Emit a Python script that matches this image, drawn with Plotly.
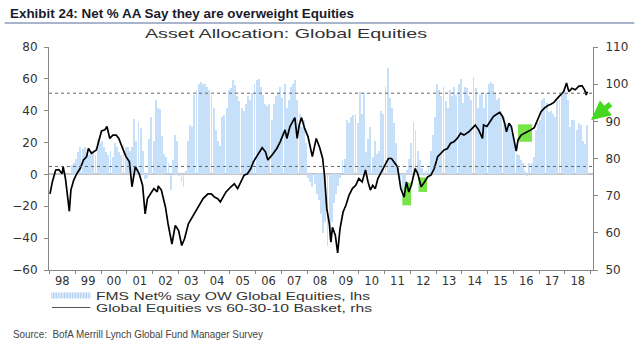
import json
import pandas as pd
import plotly.graph_objects as go

# ---------------- data ----------------
BAR_START = "1998-11-01"   # first monthly FMS observation
FMS_1998 = [6, 7]
FMS_1999 = [10, 14, 17, 16, 17, 13, 12, 15, 14, 12, 22, 20]
FMS_2000 = [21, 17, 14, 12, 15, 11, 20, 17, 14, 12, 19, 17]
FMS_2001 = [17, 15, 17, 35, 21, 33, 29, 15, -3, -2, 22, 36]
FMS_2002 = [21, 47, 42, 41, 24, 13, 11, 7, -10, 9, 25, 21]
FMS_2003 = [-1, -5, -8, 2, 21, 31, 30, 50, 53, 57, 58, 57]
FMS_2004 = [57, 55, 53, 50, 42, 28, 21, 18, 36, 37, 42, 53]
FMS_2005 = [54, 59, 56, 49, 46, 42, 40, 44, 49, 47, 51, 57]
FMS_2006 = [59, 60, 55, 50, 44, 43, 44, 34, 44, 49, 51, 55]
FMS_2007 = [48, 57, 42, 47, 55, 57, 59, 47, 38, 30, 34, 20]
FMS_2008 = [-2, -5, -8, -6, -12, -16, -25, -37, -30, -45, -41, -30]
FMS_2009 = [-18, -12, -7, -2, 9, 10, 34, 32, 36, 37, 38, 32]
FMS_2010 = [52, 38, 51, 14, 22, 30, 11, 21, 13, 15, 40, 38]
FMS_2011 = [55, 67, 48, 42, 32, 20, 4, -8, -14, -8, 3, 10]
FMS_2012 = [20, 33, 28, 15, 9, 4, -1, 2, 5, 15, 25, 36]
FMS_2013 = [57, 53, 49, 55, 46, 42, 53, 49, 55, 50, 57, 60]
FMS_2014 = [45, 55, 54, 49, 47, 61, 54, 42, 50, 51, 42, 51]
FMS_2015 = [57, 58, 57, 51, 47, 48, 40, 36, 32, 30, 31, 26]
FMS_2016 = [21, 13, 12, 9, 7, 2, -1, 7, 7, 11, 28, 32]
FMS_2017 = [34, 47, 48, 45, 39, 40, 38, 36, 48, 47, 51, 53]
FMS_2018 = [51, 47, 30, 34, 34, 28, 32, 31, 21, 19, 31]

LINE_YEARS = [
    1998.02, 1998.11, 1998.24, 1998.36, 1998.49, 1998.53, 1998.62, 1998.71, 1998.77, 1998.83, 1998.94,
    1999.06, 1999.19, 1999.32, 1999.44, 1999.51, 1999.63, 1999.82, 1999.93,
    2000.02, 2000.15, 2000.23, 2000.34, 2000.46, 2000.59, 2000.69, 2000.84, 2000.97,
    2001.10, 2001.20, 2001.33, 2001.48, 2001.61, 2001.71, 2001.80, 2001.92,
    2002.05, 2002.18, 2002.22, 2002.34, 2002.50, 2002.60, 2002.75, 2002.88,
    2003.01, 2003.13, 2003.24, 2003.39, 2003.58, 2003.71, 2003.83, 2003.96,
    2004.15, 2004.28, 2004.40, 2004.53, 2004.63, 2004.73, 2004.85,
    2005.04, 2005.17, 2005.30, 2005.42, 2005.55, 2005.68, 2005.81, 2005.91,
    2006.06, 2006.25, 2006.38, 2006.47, 2006.63, 2006.82, 2006.95,
    2007.14, 2007.21, 2007.33, 2007.52, 2007.61, 2007.69, 2007.78, 2007.90,
    2008.03, 2008.20, 2008.35, 2008.48, 2008.60, 2008.67, 2008.76, 2008.86, 2008.92, 2008.98,
    2009.09, 2009.18, 2009.27, 2009.39, 2009.50, 2009.62, 2009.75, 2009.88,
    2010.00, 2010.13, 2010.26, 2010.36, 2010.45, 2010.54, 2010.64, 2010.74, 2010.87,
    2011.02, 2011.15, 2011.27, 2011.40, 2011.50, 2011.63, 2011.76, 2011.85, 2011.94,
    2012.04, 2012.19, 2012.29, 2012.42, 2012.55, 2012.68, 2012.80, 2012.93,
    2013.06, 2013.18, 2013.31, 2013.44, 2013.56, 2013.69, 2013.82, 2013.95,
    2014.08, 2014.27, 2014.52, 2014.65, 2014.80, 2014.84, 2014.97,
    2015.09, 2015.22, 2015.35, 2015.47, 2015.58, 2015.66, 2015.73, 2015.83, 2015.92,
    2016.01, 2016.11, 2016.18, 2016.30, 2016.43, 2016.56, 2016.68, 2016.81, 2016.94,
    2017.07, 2017.19, 2017.32, 2017.45, 2017.57, 2017.70, 2017.83, 2017.95,
    2018.06, 2018.15, 2018.27, 2018.40, 2018.53, 2018.66, 2018.76, 2018.82, 2018.87,
]
LINE_VALUES = [
    70.5, 73.7, 76.9, 77.0, 75.9, 77.8, 74.6, 68.3, 65.8, 71.5, 74.2,
    75.9, 77.3, 79.6, 80.5, 82.7, 81.4, 82.3, 85.4,
    87.4, 87.7, 88.6, 85.4, 86.3, 86.3, 85.4, 82.7, 80.5,
    79.1, 72.4, 77.8, 75.9, 72.8, 65.1, 69.2, 70.5,
    71.9, 71.0, 72.6, 71.5, 66.9, 62.4, 57.0, 62.0,
    60.6, 56.6, 58.4, 62.4, 64.7, 66.5, 67.8, 69.2,
    70.5, 70.5, 69.6, 69.2, 68.3, 69.6, 71.0,
    72.4, 73.2, 71.9, 73.7, 75.5, 75.9, 77.3, 79.1,
    80.9, 82.9, 81.8, 79.6, 80.9, 82.7, 84.5,
    87.7, 85.4, 88.6, 91.0, 85.4, 89.0, 91.0, 88.1,
    85.9, 80.5, 85.4, 83.0, 80.0, 75.5, 66.5, 62.4, 57.5, 61.5,
    59.3, 54.6, 61.1, 65.6, 67.4, 70.1, 71.9, 72.8,
    74.6, 73.7, 76.9, 73.7, 71.5, 72.8, 71.9, 74.6, 76.4,
    78.4, 80.0, 80.0, 78.6, 77.8, 71.9, 69.6, 73.7, 71.0,
    72.8, 77.3, 75.9, 72.4, 73.7, 75.1, 75.5, 77.3,
    80.5, 81.4, 82.3, 82.7, 84.1, 84.5, 85.4, 86.8,
    86.3, 87.2, 89.0, 87.7, 85.4, 89.0, 88.6,
    89.9, 91.3, 91.9, 92.4, 91.3, 89.5, 87.2, 89.5, 88.6,
    85.4, 82.0, 85.0, 86.3, 86.8, 87.2, 87.7, 88.3, 90.4,
    92.6, 93.5, 94.2, 94.6, 95.1, 96.2, 97.3, 98.0,
    100.3, 98.0, 98.9, 98.5, 99.4, 99.6, 98.5, 97.1, 98.0,
]

DOTTED_LEVELS = [51, 5]          # lhs reference levels
# highlighted periods: (start year, end year, rhs low, rhs high)
HIGHLIGHTS = [
    (2011.69, 2012.03, 67.4, 73.5),
    (2012.32, 2012.65, 71.0, 74.9),
    (2016.18, 2016.72, 84.5, 89.2),
]

TITLE = "Exhibit 24: Net % AA Say they are overweight Equities"
CHART_TITLE = "Asset Allocation: Global Equities"
LEGEND_BARS = "FMS Net% say OW Global Equities, lhs"
LEGEND_LINE = "Global Equities vs 60-30-10 Basket, rhs"
SOURCE = "Source:  BofA Merrill Lynch Global Fund Manager Survey"

# ---------------- build ----------------
fms = (FMS_1998 + FMS_1999 + FMS_2000 + FMS_2001 + FMS_2002 + FMS_2003 + FMS_2004
       + FMS_2005 + FMS_2006 + FMS_2007 + FMS_2008 + FMS_2009 + FMS_2010 + FMS_2011
       + FMS_2012 + FMS_2013 + FMS_2014 + FMS_2015 + FMS_2016 + FMS_2017 + FMS_2018)
bar_dates = pd.date_range(BAR_START, periods=len(fms), freq="MS") + pd.Timedelta(days=14)


def yr2date(y):
    yi = int(y)
    return pd.Timestamp(yi, 1, 1) + pd.Timedelta(days=(y - yi) * 365.25)


line_dates = [yr2date(y) for y in LINE_YEARS]

W, H = 640, 346
ML, MR, MT, MB = 45, 42, 47, 76
PW, PH = W - ML - MR, H - MT - MB


def px(x):
    return (x - ML) / PW


def py(y):
    return (H - MB - y) / PH


fig = go.Figure()
fig.add_trace(go.Bar(
    x=bar_dates, y=fms, yaxis="y",
    marker=dict(color="rgb(198,224,250)", line=dict(width=0)),
    width=13 * 24 * 3600 * 1000, showlegend=False,
))
fig.add_trace(go.Scatter(
    x=line_dates, y=LINE_VALUES, yaxis="y2", mode="lines",
    line=dict(color="black", width=1.7), showlegend=False,
))

shapes = []
for lv in DOTTED_LEVELS:
    shapes.append(dict(type="line", xref="paper", yref="y", x0=0, x1=1, y0=lv, y1=lv,
                       line=dict(color="#666666", width=1, dash="dot"), layer="above"))
for (s, e, lo, hi) in HIGHLIGHTS:
    shapes.append(dict(type="rect", xref="x", yref="y2", x0=yr2date(s), x1=yr2date(e),
                       y0=lo, y1=hi, fillcolor="rgba(95,225,40,0.85)", line=dict(width=0),
                       layer="below"))
# title rule
shapes.append(dict(type="line", xref="paper", yref="paper", x0=px(0), x1=px(640),
                   y0=py(23), y1=py(23), line=dict(color="#8c9cbc", width=1.5)))
# legend icons
xx = 48.0
while xx <= 87:
    shapes.append(dict(type="line", xref="paper", yref="paper", x0=px(xx), x1=px(xx),
                       y0=py(292.5), y1=py(298.5), line=dict(color="rgb(170,205,245)", width=1)))
    xx += 1.6
shapes.append(dict(type="line", xref="paper", yref="paper", x0=px(48), x1=px(87),
                   y0=py(307.5), y1=py(307.5), line=dict(color="#555555", width=1)))

SANS = "Liberation Sans, Arial, sans-serif"
# (annotation, target rendered width in px or None)
ann_specs = [
    (dict(text=TITLE, xref="paper", yref="paper", x=px(3), y=py(13), align="left",
          xanchor="left", yanchor="middle", showarrow=False,
          font=dict(family=SANS, size=13, weight="bold", color="#1b1b2b")), 344),
    (dict(text=CHART_TITLE, xref="paper", yref="paper", x=px(141), y=py(33), align="left",
          xanchor="left", yanchor="middle", showarrow=False,
          font=dict(family=SANS, size=13, color="#333333")), 282),
    (dict(text=LEGEND_BARS, xref="paper", yref="paper", x=px(91), y=py(295.5), align="left",
          xanchor="left", yanchor="middle", showarrow=False,
          font=dict(family=SANS, size=11, color="#333333")), 274),
    (dict(text=LEGEND_LINE, xref="paper", yref="paper", x=px(91), y=py(307.5), align="left",
          xanchor="left", yanchor="middle", showarrow=False,
          font=dict(family=SANS, size=11, color="#333333")), 276),
    (dict(text=SOURCE, xref="paper", yref="paper", x=px(6), y=py(334), align="left",
          xanchor="left", yanchor="middle", showarrow=False,
          font=dict(family=SANS, size=11, color="#444444")), 250),
    (dict(text="", xref="paper", yref="paper", x=px(596), y=py(120), ax=21, ay=-17,
          showarrow=True, arrowhead=2, arrowsize=0.7, arrowwidth=5.5, arrowcolor="#44d81e"), None),
]
annotations = [a for a, _ in ann_specs]
text_widths = [w for _, w in ann_specs]

tickfont_y = dict(family="DejaVu Sans", size=12, color="#333333")
tickfont_x = dict(family="DejaVu Sans", size=11.5, color="#333333")
fig.update_layout(
    width=W, height=H, autosize=False,
    margin=dict(l=ML, r=MR, t=MT, b=MB),
    paper_bgcolor="white", plot_bgcolor="white",
    bargap=0, showlegend=False,
    shapes=shapes, annotations=annotations,
    xaxis=dict(type="date", range=["1997-12-25", "2019-02-02"],
               tick0="1998-01-01", dtick="M12", tickformat="%y", ticklabelmode="period",
               ticks="outside", ticklen=3, tickcolor="#888888",
               showline=True, linecolor="#888888", linewidth=1,
               showgrid=False, zeroline=False, tickfont=tickfont_x, ticklabelstandoff=-3),
    yaxis=dict(range=[-60, 80], dtick=20, ticks="outside", ticklen=4, tickcolor="#888888",
               showline=True, linecolor="#888888", linewidth=1, showgrid=False,
               zeroline=True, zerolinecolor="#c4c4c4", zerolinewidth=2,
               tickfont=tickfont_y, ticklabelstandoff=4),
    yaxis2=dict(range=[50, 110], dtick=10, overlaying="y", side="right",
                ticks="outside", ticklen=4, tickcolor="#888888",
                showline=True, linecolor="#888888", linewidth=1, showgrid=False,
                zeroline=False, tickfont=tickfont_y, ticklabelstandoff=5),
)

# stretch annotation texts horizontally to the widths of the (wide-set) reference lettering
post = """
var gd = document.getElementById('{plot_id}');
var widths = %s;
function stretch() {
  var texts = gd.querySelectorAll('g.annotation text.annotation-text');
  texts.forEach(function (t, i) {
    if (widths[i]) {
      t.setAttribute('textLength', widths[i]);
      t.setAttribute('lengthAdjust', 'spacingAndGlyphs');
    }
  });
}
stretch();
gd.on && gd.on('plotly_afterplot', stretch);
""" % json.dumps(text_widths)

fig.write_html("out.html", post_script=post)
